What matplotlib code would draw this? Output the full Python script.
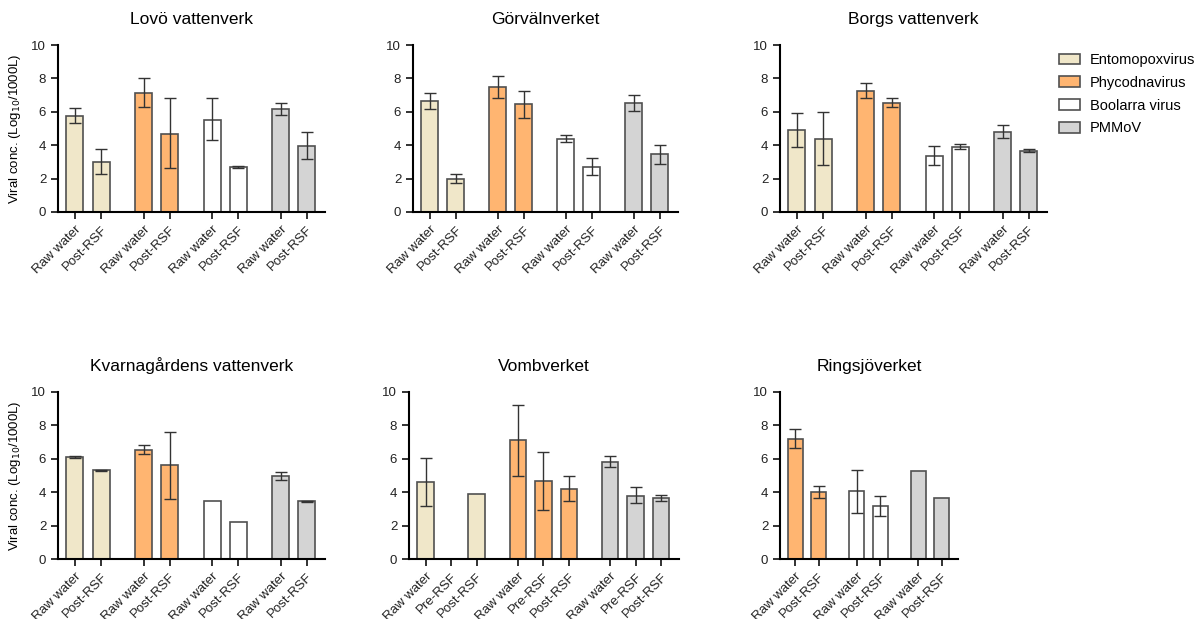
import numpy as np
import matplotlib
matplotlib.use('Agg')
import matplotlib.pyplot as plt
from matplotlib.patches import Patch

plt.rcParams['font.family'] = ['Liberation Sans', 'DejaVu Sans']

# virus colours
viruses = ['Entomopoxvirus', 'Phycodnavirus', 'Boolarra virus', 'PMMoV']
virus_colors = {'Entomopoxvirus': '#F0E7C9', 'Phycodnavirus': '#FFB571',
                'Boolarra virus': '#FFFFFF', 'PMMoV': '#D4D4D4'}

# ---- data (log10 / 1000 L) ----
lovo_groups = ['Entomopoxvirus', 'Phycodnavirus', 'Boolarra virus', 'PMMoV']
lovo_labels = ['Raw water', 'Post-RSF']
lovo_vals = [5.75, 3.0, 7.1, 4.7, 5.5, 2.7, 6.15, 3.95]
lovo_hi = [6.25, 3.75, 8.0, 6.8, 6.8, 2.75, 6.5, 4.8]
lovo_lo = [5.3, 2.3, 6.3, 2.65, 4.3, 2.65, 5.8, 3.15]

gorv_groups = ['Entomopoxvirus', 'Phycodnavirus', 'Boolarra virus', 'PMMoV']
gorv_labels = ['Raw water', 'Post-RSF']
gorv_vals = [6.65, 2.0, 7.5, 6.45, 4.4, 2.7, 6.5, 3.45]
gorv_hi = [7.15, 2.3, 8.15, 7.25, 4.62, 3.25, 7.0, 4.0]
gorv_lo = [6.15, 1.75, 6.8, 5.65, 4.18, 2.2, 6.05, 2.9]

borg_groups = ['Entomopoxvirus', 'Phycodnavirus', 'Boolarra virus', 'PMMoV']
borg_labels = ['Raw water', 'Post-RSF']
borg_vals = [4.9, 4.4, 7.25, 6.55, 3.35, 3.9, 4.8, 3.65]
borg_hi = [5.9, 6.0, 7.7, 6.85, 3.95, 4.1, 5.2, 3.75]
borg_lo = [3.9, 2.8, 6.85, 6.3, 2.8, 3.75, 4.45, 3.6]

kvar_groups = ['Entomopoxvirus', 'Phycodnavirus', 'Boolarra virus', 'PMMoV']
kvar_labels = ['Raw water', 'Post-RSF']
kvar_vals = [6.1, 5.3, 6.55, 5.6, 3.45, 2.2, 4.95, 3.45]
kvar_hi = [6.15, 5.32, 6.85, 7.6, None, None, 5.2, 3.5]
kvar_lo = [6.05, 5.28, 6.3, 3.6, None, None, 4.75, 3.4]

vomb_groups = ['Entomopoxvirus', 'Phycodnavirus', 'PMMoV']
vomb_labels = ['Raw water', 'Pre-RSF', 'Post-RSF']
vomb_vals = [4.6, None, 3.9, 7.1, 4.65, 4.2, 5.8, 3.8, 3.65]
vomb_hi = [6.05, None, None, 9.25, 6.4, 4.95, 6.15, 4.3, 3.85]
vomb_lo = [3.15, None, None, 4.95, 2.95, 3.45, 5.5, 3.35, 3.45]

ring_groups = ['Phycodnavirus', 'Boolarra virus', 'PMMoV']
ring_labels = ['Raw water', 'Post-RSF']
ring_vals = [7.2, 4.0, 4.05, 3.2, 5.25, 3.65]
ring_hi = [7.8, 4.4, 5.35, 3.8, None, None]
ring_lo = [6.65, 3.65, 2.75, 2.6, None, None]

W, H = 1195, 619
fig = plt.figure(figsize=(W / 100, H / 100), dpi=100)


def px_axes(x0, x1, ytop, ybot):
    return fig.add_axes([x0 / W, 1 - ybot / H, (x1 - x0) / W, (ybot - ytop) / H])


def draw_panel(box, title, groups, labels, vals, hi, lo, ylabel=False):
    ax = px_axes(*box)
    n = len(labels)
    pos, cols, ticklabs = [], [], []
    for g, grp in enumerate(groups):
        for i, lab in enumerate(labels):
            pos.append(g * (n + 0.62) + i)
            cols.append(virus_colors[grp])
            ticklabs.append(lab)
    for p, v, c, h, l in zip(pos, vals, cols, hi, lo):
        if v is None:
            continue
        ax.bar(p, v, width=0.65, color=c, edgecolor='#505050', linewidth=1.2, zorder=2)
        if h is not None:
            ax.errorbar(p, v, yerr=[[v - l], [h - v]], fmt='none', ecolor='#333333',
                        elinewidth=1.0, capsize=4, capthick=1.0, zorder=3)
    ax.set_xlim(-0.65, pos[-1] + 0.7)
    ax.set_ylim(0, 10)
    ax.set_yticks([0, 2, 4, 6, 8, 10])
    ax.set_xticks(pos)
    ax.set_xticklabels(ticklabs, rotation=45, ha='right', rotation_mode='anchor', fontsize=9.5)
    ax.tick_params(axis='both', width=1.3, length=5, labelsize=9.5, colors='#222222')
    ax.spines['top'].set_visible(False)
    ax.spines['right'].set_visible(False)
    ax.spines['left'].set_linewidth(1.5)
    ax.spines['bottom'].set_linewidth(1.5)
    ax.set_title(title, fontsize=12.5, pad=15)
    if ylabel:
        ax.set_ylabel('Viral conc. (Log$_{10}$/1000L)', fontsize=9.5, labelpad=6)
    return ax


draw_panel((58, 325, 45, 212), 'Lovö vattenverk', lovo_groups, lovo_labels,
           lovo_vals, lovo_hi, lovo_lo, ylabel=True)
draw_panel((413, 678, 45, 212), 'Görvälnverket', gorv_groups, gorv_labels,
           gorv_vals, gorv_hi, gorv_lo)
draw_panel((780, 1047, 45, 212), 'Borgs vattenverk', borg_groups, borg_labels,
           borg_vals, borg_hi, borg_lo)
draw_panel((58, 325, 392, 559), 'Kvarnagårdens vattenverk', kvar_groups, kvar_labels,
           kvar_vals, kvar_hi, kvar_lo, ylabel=True)
draw_panel((409, 679, 392, 559), 'Vombverket', vomb_groups, vomb_labels,
           vomb_vals, vomb_hi, vomb_lo)
draw_panel((780, 958, 392, 559), 'Ringsjöverket', ring_groups, ring_labels,
           ring_vals, ring_hi, ring_lo)

handles = [Patch(facecolor=virus_colors[v], edgecolor='#505050', linewidth=1.2, label=v)
           for v in viruses]
fig.legend(handles=handles, loc='upper left', bbox_to_anchor=(1046 / W, 1 - 40 / H),
           frameon=False, fontsize=10.5, handlelength=1.4, handleheight=0.75,
           labelspacing=0.6, handletextpad=0.7)

fig.savefig('out.png', dpi=100)
